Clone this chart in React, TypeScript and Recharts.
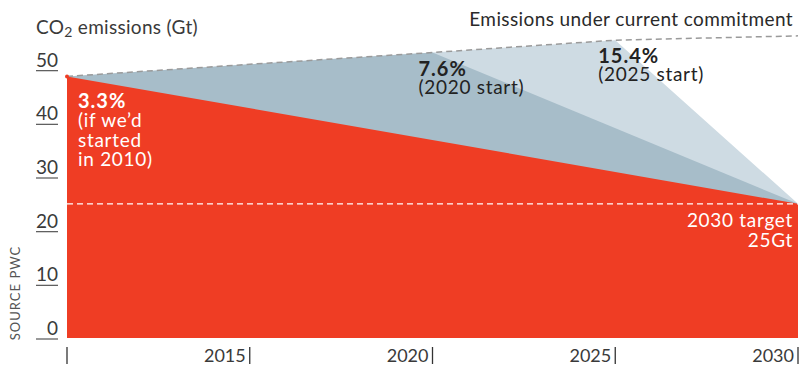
import React from "react"
import { ComposedChart, Area, Line, XAxis, YAxis, ReferenceLine, ReferenceDot } from "recharts"

// years on the x axis
const years = [2010, 2015, 2020, 2025, 2030]
// emissions under current commitment (Gt)
const commitment = [48.75, 51.0, 53.2, 55.5, 56.3]
// reduction paths: stay on commitment until the start year, then go straight to target
const start2025 = [48.75, 51.0, 53.2, 55.5, 25]
const start2020 = [48.75, 51.0, 53.2, null, 25]
const start2010 = [48.75, null, null, null, 25]

const target = 25
const yTicks = [0, 10, 20, 30, 40, 50]
const xTicks = [2010, 2015, 2020, 2025, 2030]

const data = years.map((year, i) => ({
  year,
  commitment: commitment[i],
  start2025: start2025[i],
  start2020: start2020[i],
  start2010: start2010[i],
}))

const FONT = "Lato, 'Open Sans', sans-serif"
const RED = "#ef3d24"
const DARK_GREY = "#a7bdc9"
const LIGHT_GREY = "#cedbe3"

function YTick(props: any) {
  const { x, y, payload } = props
  return (
    <g>
      <line x1={x - 31} x2={x - 9} y1={y + 1} y2={y + 1} stroke="#555" strokeWidth={1.2} />
      <text x={x - 9} y={y - 3} textAnchor="end" fontSize={19} fill="#3a3a3a" fontFamily={FONT}>
        {payload.value}
      </text>
    </g>
  )
}

function XTick(props: any) {
  const { x, y, payload } = props
  return (
    <g>
      <line x1={x} x2={x} y1={y + 9} y2={y + 26} stroke="#333" strokeWidth={1.3} />
      {payload.value !== 2010 && (
        <text x={x - 4} y={y + 24} textAnchor="end" fontSize={18} fill="#3a3a3a" fontFamily={FONT}>
          {payload.value}
        </text>
      )}
    </g>
  )
}

// multi-line text anchored to a data point
function Note({ cx, cy, dx, lines, anchor = "start", color, spacing = 0.7 }: any) {
  return (
    <text x={cx + dx} y={cy} textAnchor={anchor} fontFamily={FONT} fill={color}>
      {lines.map((l: any, i: number) => (
        <tspan
          key={i}
          x={cx + dx}
          y={cy + l.dy}
          fontSize={l.bold ? 20 : 19}
          fontWeight={l.bold ? 700 : 400}
          letterSpacing={l.bold ? 1 : spacing}
        >
          {l.text}
        </tspan>
      ))}
    </text>
  )
}

export default function App() {
  return (
    <div style={{ position: "absolute", left: 0, top: 0, width: 799, height: 366, fontFamily: FONT, background: "#fff" }}>
      <div style={{ position: "absolute", left: 36, top: 15, fontSize: 19, letterSpacing: 0.3, color: "#3a3a3a", whiteSpace: "nowrap" }}>
        CO<sub style={{ fontSize: 14, verticalAlign: "-3px" }}>2</sub> emissions (Gt)
      </div>
      <div
        style={{
          position: "absolute",
          left: 15,
          top: 293,
          transform: "translate(-50%, -50%) rotate(-90deg)",
          fontSize: 13,
          letterSpacing: 1,
          color: "#555",
          whiteSpace: "nowrap",
        }}
      >
        SOURCE PWC
      </div>
      <ComposedChart width={799} height={366} data={data} margin={{ top: 16, right: 1, bottom: 0, left: 0 }}>
        <XAxis
          dataKey="year"
          type="number"
          domain={[2010, 2030]}
          ticks={xTicks}
          axisLine={false}
          tickLine={false}
          tickSize={0}
          tickMargin={0}
          height={28}
          tick={<XTick />}
          interval={0}
        />
        <YAxis
          type="number"
          domain={[0, 60]}
          ticks={yTicks}
          axisLine={false}
          tickLine={false}
          tickSize={0}
          tickMargin={0}
          width={67}
          tick={<YTick />}
          interval={0}
        />
        <Area dataKey="start2025" type="linear" stroke="none" fill={LIGHT_GREY} fillOpacity={1} connectNulls isAnimationActive={false} />
        <Area dataKey="start2020" type="linear" stroke="none" fill={DARK_GREY} fillOpacity={1} connectNulls isAnimationActive={false} />
        <Area dataKey="start2010" type="linear" stroke="none" fill={RED} fillOpacity={1} connectNulls isAnimationActive={false} />
        <Line dataKey="commitment" type="linear" stroke="#9a9a9a" strokeWidth={1.5} strokeDasharray="6 4" dot={false} isAnimationActive={false} />
        <ReferenceLine y={target} stroke="#fff" strokeWidth={1.3} strokeDasharray="6 4" />
        <ReferenceDot x={2010} y={start2010[0]} r={2} fill={RED} stroke="none" />
        <ReferenceDot
          x={2010}
          y={start2010[0]}
          shape={(p: any) => (
            <Note
              cx={p.cx}
              cy={p.cy}
              dx={11}
              color="#fff"
              lines={[
                { text: "3.3%", dy: 32, bold: true },
                { text: "(if we\u2019d", dy: 51 },
                { text: "started", dy: 71 },
                { text: "in 2010)", dy: 90 },
              ]}
            />
          )}
        />
        <ReferenceDot
          x={2020}
          y={commitment[2]}
          shape={(p: any) => (
            <Note
              cx={p.cx}
              cy={p.cy}
              dx={-14}
              color="#222"
              lines={[
                { text: "7.6%", dy: 24, bold: true },
                { text: "(2020 start)", dy: 42 },
              ]}
            />
          )}
        />
        <ReferenceDot
          x={2025}
          y={commitment[3]}
          shape={(p: any) => (
            <Note
              cx={p.cx}
              cy={p.cy}
              dx={-17}
              color="#222"
              lines={[
                { text: "15.4%", dy: 23, bold: true },
                { text: "(2025 start)", dy: 41 },
              ]}
            />
          )}
        />
        <ReferenceDot
          x={2030}
          y={commitment[4]}
          shape={(p: any) => (
            <Note
              cx={p.cx}
              cy={p.cy}
              dx={-5}
              anchor="end"
              color="#2a2a2a"
              spacing={0.4}
              lines={[{ text: "Emissions under current commitment", dy: -10 }]}
            />
          )}
        />
        <ReferenceDot
          x={2030}
          y={target}
          shape={(p: any) => (
            <Note
              cx={p.cx}
              cy={p.cy}
              dx={-5}
              anchor="end"
              color="#fff"
              lines={[
                { text: "2030 target", dy: 23 },
                { text: "25Gt", dy: 43 },
              ]}
            />
          )}
        />
      </ComposedChart>
    </div>
  )
}
